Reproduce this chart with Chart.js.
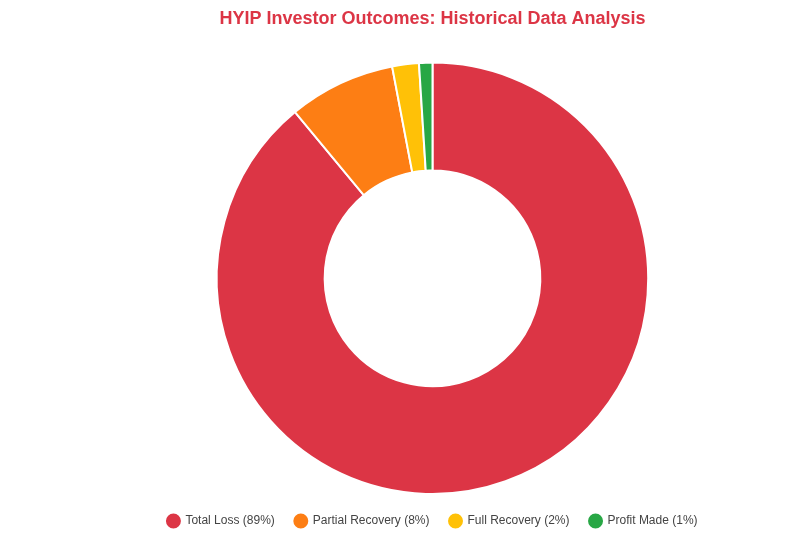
<!DOCTYPE html>
<html>
<head>
<meta charset="utf-8">
<script src="https://cdn.jsdelivr.net/npm/chart.js@4"></script>
<style>
  html, body { margin: 0; padding: 0; background: #fff; overflow: hidden; }
  #wrap { position: absolute; left: 72px; top: 0; width: 721px; height: 555px; }
</style>
</head>
<body>
<div id="wrap"><canvas id="c"></canvas></div>
<script>
const labels = ['Total Loss (89%)', 'Partial Recovery (8%)', 'Full Recovery (2%)', 'Profit Made (1%)'];
const values = [89, 8, 2, 1];
const colors = ['#dc3545', '#fd7e14', '#ffc107', '#28a745'];

new Chart(document.getElementById('c'), {
  type: 'doughnut',
  data: {
    labels: labels,
    datasets: [{
      data: values,
      backgroundColor: colors,
      borderColor: '#fff',
      borderWidth: 2
    }]
  },
  options: {
    responsive: true,
    maintainAspectRatio: false,
    animation: false,
    cutout: '50%',
    layout: { padding: { top: 0, bottom: 18 } },
    plugins: {
      title: {
        display: true,
        text: 'HYIP Investor Outcomes: Historical Data Analysis',
        color: '#dc3545',
        font: { family: 'Arial, Liberation Sans, sans-serif', size: 18, weight: 'bold' },
        padding: { top: 8, bottom: 32 }
      },
      legend: {
        position: 'bottom',
        labels: {
          usePointStyle: true,
          pointStyle: 'circle',
          boxWidth: 20,
          boxHeight: 20,
          padding: 20,
          color: '#444',
          font: { family: 'Arial, Liberation Sans, sans-serif', size: 12 }
        }
      },
      tooltip: { enabled: false }
    }
  }
});
</script>
</body>
</html>
